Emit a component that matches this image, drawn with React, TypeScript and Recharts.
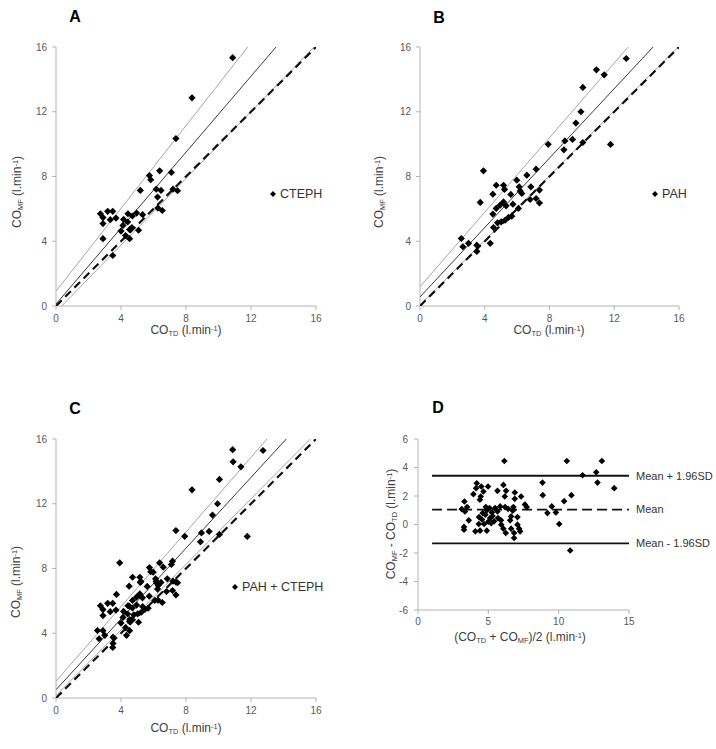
import React from 'react';
import { ScatterChart, Scatter, XAxis, YAxis, ReferenceLine } from 'recharts';

const FONT = '"Liberation Sans", Arial, sans-serif';

// panel A - CTEPH (CO_TD, CO_MF)
const cteph = [
  [10.87, 15.34], [8.37, 12.86], [7.38, 10.34], [5.75, 8.06], [5.83, 7.8], [6.38, 8.35],
  [7.1, 8.25], [5.19, 7.14], [6.17, 7.22], [6.46, 7.14], [7.2, 7.22], [7.48, 7.12],
  [6.25, 6.73], [6.27, 6.05], [6.54, 5.9], [2.73, 5.7], [3.18, 5.85], [3.49, 5.85],
  [2.89, 5.46], [3.34, 5.33], [3.69, 5.43], [2.89, 5.09], [2.89, 4.16], [4.43, 5.7],
  [4.96, 5.74], [5.33, 5.64], [4.16, 5.35], [4.7, 5.56], [4.41, 5.19], [4.67, 4.84],
  [4.12, 4.98], [4.0, 4.63], [4.53, 4.72], [5.08, 4.68], [4.28, 4.35], [4.53, 4.16],
  [3.49, 3.12],
].map(([x, y]) => ({ x, y }));

// panel B - PAH
const pah = [
  [12.74, 15.29], [10.9, 14.59], [11.38, 14.28], [10.06, 13.5], [9.94, 12.0], [9.63, 11.3],
  [9.42, 10.29], [8.95, 10.2], [8.89, 9.65], [10.06, 10.1], [11.77, 9.98], [7.92, 9.99],
  [3.92, 8.35], [6.6, 8.08], [7.17, 8.45], [5.98, 7.77], [4.71, 7.46], [5.16, 7.46],
  [5.22, 7.2], [6.13, 7.36], [6.19, 7.11], [4.5, 6.91], [5.61, 6.89], [6.29, 6.95],
  [6.85, 7.36], [7.38, 7.16], [3.72, 6.4], [5.16, 6.43], [5.32, 6.19], [5.74, 6.29],
  [6.8, 6.58], [7.17, 6.64], [7.38, 6.37], [4.95, 6.23], [4.71, 6.03], [4.5, 5.68],
  [6.08, 6.03], [4.79, 5.14], [5.02, 5.2], [5.26, 5.31], [5.47, 5.47], [5.67, 5.55],
  [4.54, 4.85], [2.55, 4.17], [2.65, 3.66], [3.0, 3.87], [3.51, 3.76], [4.34, 3.87],
  [3.51, 3.37],
].map(([x, y]) => ({ x, y }));

// panel D - Bland-Altman (mean, difference)
const blandAltman = [
  [6.14, 4.46], [10.58, 4.46], [13.07, 4.46], [11.7, 3.46], [12.67, 3.67], [12.76, 2.94],
  [13.95, 2.55], [8.85, 2.94], [8.87, 2.06], [10.91, 2.06], [10.39, 1.64], [9.51, 1.27],
  [9.8, 0.85], [9.2, 0.8], [10.04, 0.03], [10.82, -1.82], [7.73, 1.22], [7.33, 1.97],
  [4.18, 2.9], [4.5, 2.67], [4.13, 2.55], [4.98, 2.67], [4.65, 2.32], [3.94, 2.13],
  [4.46, 1.97], [4.4, 1.74], [6.07, 2.78], [6.26, 2.36], [5.65, 2.36], [6.17, 1.97],
  [6.88, 2.25], [6.88, 1.8], [3.3, 1.61], [3.49, 1.22], [3.11, 1.08], [3.34, 0.92],
  [3.61, 0.29], [3.27, -0.17], [3.27, -0.36], [4.08, -0.48], [4.41, -0.43], [4.89, -0.43],
  [4.32, 0.04], [4.34, 0.52], [4.7, 0.04], [4.82, 1.22], [4.79, 0.69], [5.08, 1.15],
  [5.25, 0.85], [5.48, 1.15], [5.65, 0.92], [5.84, 1.27], [6.19, 1.22], [5.69, 0.45],
  [5.92, -0.01], [5.41, 0.22], [5.13, 0.45], [6.07, -0.29], [6.24, -0.6], [6.62, 0.57],
  [6.55, 0.29], [6.74, 0.97], [6.78, 1.22], [7.07, 0.52], [7.07, -0.01], [7.19, -0.29],
  [7.26, -0.48], [6.62, -0.29], [6.83, -0.95], [6.83, -0.6], [7.6, 1.4], [5.3, 0.6],
  [5.0, 0.2], [4.6, 0.8], [5.9, 0.3], [4.9, 1.0], [6.4, 1.1], [5.2, 0.1], [4.55, 0.35],
].map(([x, y]) => ({ x, y }));

const MEAN = 1.05;
const UPPER_LOA = 3.42;
const LOWER_LOA = -1.32;
const LOA_RANGE = [1, 15];

// fitted / band lines, start and end points
const aLines = {
  upper: [{ x: 0, y: 0.92 }, { x: 11.8, y: 16 }],
  fit: [{ x: 0, y: 0.12 }, { x: 13.54, y: 16 }],
  lower: [{ x: 0.35, y: 0 }, { x: 15.88, y: 16 }],
};
const bLines = {
  upper: [{ x: 0, y: 1.19 }, { x: 12.86, y: 16 }],
  fit: [{ x: 0, y: 0.56 }, { x: 14.4, y: 16 }],
  lower: [{ x: 0, y: 0.05 }, { x: 15.95, y: 16 }],
};
const cLines = {
  upper: [{ x: 0, y: 1.03 }, { x: 12.98, y: 16 }],
  fit: [{ x: 0, y: 0.51 }, { x: 14.17, y: 16 }],
  lower: [{ x: 0, y: 0.15 }, { x: 15.65, y: 16 }],
};
const identity = [{ x: 0, y: 0 }, { x: 16, y: 16 }];

const CO_TICKS = [0, 4, 8, 12, 16];
const BA_X_TICKS = [0, 5, 10, 15];
const BA_Y_TICKS = [-6, -4, -2, 0, 2, 4, 6];

const AXIS = '#b3b3b3';
const TICK = { fontSize: 10, fill: '#595959', fontFamily: FONT };

const Diamond = (r: number) => (p: any) => (
  <path d={`M${p.cx},${p.cy - r}L${p.cx + r},${p.cy}L${p.cx},${p.cy + r}L${p.cx - r},${p.cy}Z`} fill="#000" />
);
const NoShape = () => <g />;

const Sub = ({ children }: { children: React.ReactNode }) => (
  <span style={{ fontSize: '0.62em', verticalAlign: '-0.25em' }}>{children}</span>
);
const Sup = ({ children }: { children: React.ReactNode }) => (
  <span style={{ fontSize: '0.62em', verticalAlign: '0.45em' }}>{children}</span>
);

const Text = ({ x, y, rotate, size = 12, bold, children }: any) => (
  <div
    style={{
      position: 'absolute', left: x, top: y, whiteSpace: 'nowrap', fontFamily: FONT,
      fontSize: size, fontWeight: bold ? 700 : 400, color: bold ? '#000' : '#404040', lineHeight: 1,
      transform: `translate(-50%, -50%)${rotate ? ' rotate(-90deg)' : ''}`,
    }}
  >
    {children}
  </div>
);

const LegendItem = ({ x, y, label }: any) => (
  <div style={{ position: 'absolute', left: x - 4, top: y - 8, display: 'flex', alignItems: 'center', fontFamily: FONT, fontSize: 12.5, color: '#333' }}>
    <svg width={8} height={8} style={{ marginRight: 3 }}>
      <path d="M4,1L7,4L4,7L1,4Z" fill="#000" />
    </svg>
    {label}
  </div>
);

const CoPanel = ({ left, top, width, data, lines }: any) => (
  <div style={{ position: 'absolute', left, top }}>
    <ScatterChart width={width} height={331} margin={{ top: 47, right: 14, bottom: 0, left: 0 }}>
      <XAxis type="number" dataKey="x" domain={[0, 16]} ticks={CO_TICKS} height={25} stroke={AXIS}
        tick={TICK} tickSize={4} tickMargin={5} allowDataOverflow />
      <YAxis type="number" dataKey="y" domain={[0, 16]} ticks={CO_TICKS} width={56} stroke={AXIS}
        tick={TICK} tickSize={4} tickMargin={5} allowDataOverflow />
      <Scatter data={lines.upper} shape={NoShape} line={{ stroke: '#a6a6a6', strokeWidth: 1 }} isAnimationActive={false} />
      <Scatter data={lines.lower} shape={NoShape} line={{ stroke: '#a6a6a6', strokeWidth: 1 }} isAnimationActive={false} />
      <Scatter data={lines.fit} shape={NoShape} line={{ stroke: '#3a3a3a', strokeWidth: 1 }} isAnimationActive={false} />
      <Scatter data={identity} shape={NoShape} line={{ stroke: '#111', strokeWidth: 2.2, strokeDasharray: '8 5' }} isAnimationActive={false} />
      <Scatter data={data} shape={Diamond(3.6)} isAnimationActive={false} />
    </ScatterChart>
  </div>
);

const loaLabel = (value: string) => ({ value, position: 'right' as const, offset: 7, fill: '#333', fontSize: 11, fontFamily: FONT });

export default function App() {
  const combined = [...cteph, ...pah];
  return (
    <div style={{ position: 'absolute', left: 0, top: 0, width: 716, height: 749, background: '#fff', overflow: 'hidden' }}>
      <CoPanel left={0} top={0} width={330} data={cteph} lines={aLines} />
      <CoPanel left={364} top={0} width={329} data={pah} lines={bLines} />
      <CoPanel left={0} top={392} width={330} data={combined} lines={cLines} />

      <div style={{ position: 'absolute', left: 362, top: 392 }}>
        <ScatterChart width={351} height={243} margin={{ top: 47, right: 84, bottom: 0, left: 0 }}>
          <XAxis type="number" dataKey="x" domain={[0, 15]} ticks={BA_X_TICKS} height={25} stroke={AXIS}
            tick={TICK} tickSize={4} tickMargin={4} allowDataOverflow />
          <YAxis type="number" dataKey="y" domain={[-6, 6]} ticks={BA_Y_TICKS} width={56} stroke={AXIS}
            tick={TICK} tickSize={4} tickMargin={6} allowDataOverflow />
          <ReferenceLine segment={[{ x: LOA_RANGE[0], y: UPPER_LOA }, { x: LOA_RANGE[1], y: UPPER_LOA }]}
            stroke="#111" strokeWidth={1.8} label={loaLabel('Mean + 1.96SD')} />
          <ReferenceLine segment={[{ x: LOA_RANGE[0], y: MEAN }, { x: LOA_RANGE[1], y: MEAN }]}
            stroke="#111" strokeWidth={1.8} strokeDasharray="10 5" label={loaLabel('Mean')} />
          <ReferenceLine segment={[{ x: LOA_RANGE[0], y: LOWER_LOA }, { x: LOA_RANGE[1], y: LOWER_LOA }]}
            stroke="#111" strokeWidth={1.8} label={loaLabel('Mean - 1.96SD')} />
          <Scatter data={blandAltman} shape={Diamond(3.3)} isAnimationActive={false} />
        </ScatterChart>
      </div>

      {/* panel letters */}
      <Text x={75} y={17} size={16} bold>A</Text>
      <Text x={439} y={18} size={16} bold>B</Text>
      <Text x={75} y={409} size={16} bold>C</Text>
      <Text x={438} y={408} size={16} bold>D</Text>

      {/* axis titles */}
      <Text x={186} y={331}>CO<Sub>TD</Sub> (l.min<Sup>-1</Sup>)</Text>
      <Text x={549} y={331}>CO<Sub>TD</Sub> (l.min<Sup>-1</Sup>)</Text>
      <Text x={186} y={729}>CO<Sub>TD</Sub> (l.min<Sup>-1</Sup>)</Text>
      <Text x={520} y={638}>(CO<Sub>TD</Sub> + CO<Sub>MF</Sub>)/2 (l.min<Sup>-1</Sup>)</Text>
      <Text x={18} y={192} rotate>CO<Sub>MF</Sub> (l.min<Sup>-1</Sup>)</Text>
      <Text x={380} y={192} rotate>CO<Sub>MF</Sub> (l.min<Sup>-1</Sup>)</Text>
      <Text x={17} y={582} rotate>CO<Sub>MF</Sub> (l.min<Sup>-1</Sup>)</Text>
      <Text x={392} y={524} rotate>CO<Sub>MF</Sub> - CO<Sub>TD</Sub> (l.min<Sup>-1</Sup>)</Text>

      {/* legends */}
      <LegendItem x={273} y={195} label="CTEPH" />
      <LegendItem x={655} y={195} label="PAH" />
      <LegendItem x={235} y={588} label="PAH + CTEPH" />
    </div>
  );
}
